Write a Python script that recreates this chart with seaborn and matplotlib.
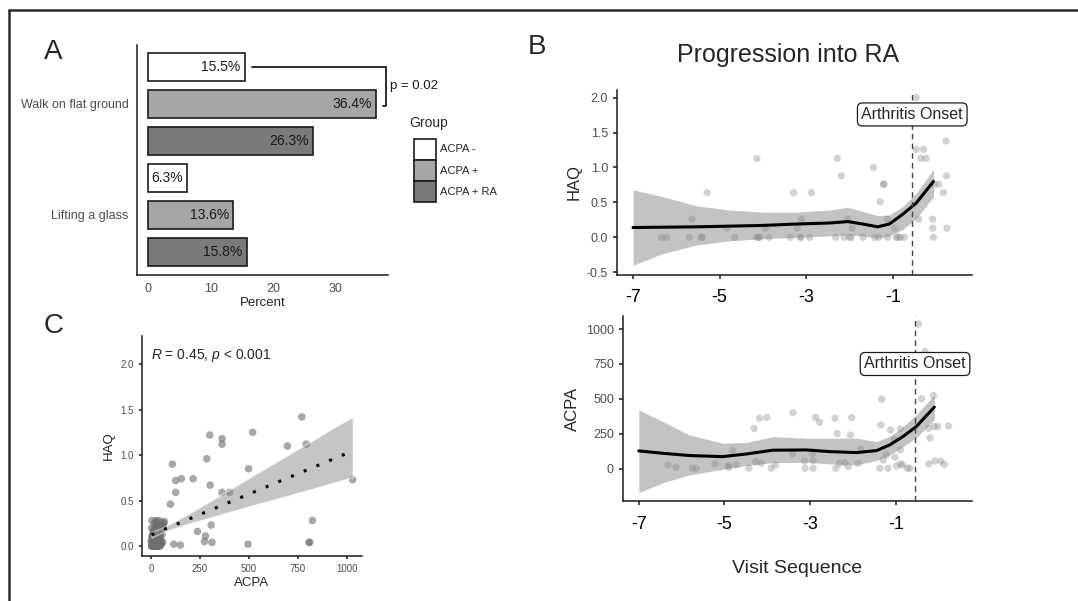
import numpy as np
import pandas as pd
import seaborn as sns
import matplotlib.pyplot as plt
from matplotlib.patches import Patch
from matplotlib.lines import Line2D

# Panel A: share of answers per item and group
items = ["Walk on flat ground", "Lifting a glass"]
groups = ["ACPA -", "ACPA +", "ACPA + RA"]
pct_walk = [15.5, 36.4, 26.3]
pct_glass = [6.3, 13.6, 15.8]
group_colors = ["#ffffff", "#a6a6a6", "#7a7a7a"]

# Panel B top: HAQ by visit
haq_vx = [-4.14, -5.29, -5.64, -4.83, -3.94, -3.29, -2.88, -3.11, -3.21, -2.28,
          -2.19, -2.04, -1.94, -1.45, -1.21, -1.21, -1.29, -1.12, -0.96, -0.46,
          -0.46, -0.29, -0.35, -0.23, 0.23, 0.24, -0.04, 0.06, 0.17, -0.08,
          -0.40, -0.08, 0.25, -0.06,
          -6.34, -6.22, -5.70, -5.42, -5.40, -4.65, -4.15, -4.07, -4.10, -3.86,
          -3.37, -3.14, -3.12, -2.92, -2.32, -2.12, -2.00, -1.96, -1.69, -1.42,
          -1.32, -1.12, -0.92, -0.88, -0.83, -0.73]
haq_v = [1.13, 0.64, 0.26, 0.13, 0.13, 0.64, 0.64, 0.26, 0.13, 1.13,
         0.88, 0.26, 0.13, 1.0, 0.76, 0.76, 0.51, 0.26, 0.13, 2.0,
         1.26, 1.26, 1.13, 1.13, 1.38, 0.88, 0.76, 0.76, 0.64, 0.26,
         0.26, 0.13, 0.13, 0.0,
         0.0, 0.0, 0.0, 0.0, 0.0, 0.0, 0.0, 0.0, 0.0, 0.0,
         0.0, 0.0, 0.0, 0.0, 0.0, 0.0, 0.0, 0.0, 0.0, 0.0,
         0.0, 0.0, 0.0, 0.0, 0.0, 0.0]
# smoothed HAQ curve with its band
haq_sm_x = [-7, -6.30, -5.53, -4.77, -4.0, -3.23, -2.46, -2.04, -1.69, -1.35, -1.08, -0.77, -0.46, -0.06]
haq_sm = [0.14, 0.145, 0.15, 0.16, 0.17, 0.19, 0.205, 0.225, 0.19, 0.15, 0.19, 0.33, 0.49, 0.80]
haq_lo = [-0.40, -0.23, -0.11, -0.05, -0.02, 0.0, 0.02, 0.035, 0.02, -0.01, 0.02, 0.11, 0.27, 0.58]
haq_hi = [0.68, 0.58, 0.45, 0.39, 0.36, 0.36, 0.39, 0.43, 0.37, 0.31, 0.32, 0.44, 0.63, 0.97]

# Panel B bottom: ACPA by visit
acpa_vx = [-0.47, -1.33, -0.40, -0.12, -3.40, -4.18, -4.01, -2.87, -2.78, -2.42,
           -2.03, -4.31, -1.35, -1.12, -0.89, -2.37, -2.06, -0.20, -0.23, -0.10,
           -0.02, 0.23, -4.81, -3.41, -2.95, -1.82, -1.04, -0.89, -1.22, -1.02,
           -1.29, -6.32, -6.13, -5.75, -5.66, -5.22, -4.91, -4.90, -4.72, -4.43,
           -4.27, -4.14, -3.91, -3.81, -3.13, -2.93, -3.12, -2.93, -2.40, -2.31,
           -2.19, -2.11, -1.88, -1.37, -1.18, -0.98, -0.89, -0.84, -0.73, -0.67,
           -0.23, -0.09, 0.05, 0.13, -0.32]
acpa_v = [1036, 499, 501, 525, 403, 363, 368, 368, 334, 363,
          368, 289, 315, 279, 286, 253, 243, 222, 291, 303,
          303, 308, 131, 107, 112, 141, 212, 136, 100, 84,
          64, 29, 12, 5, 5, 36, 24, 12, 31, 5,
          52, 41, 5, 29, 57, 60, 5, 5, 5, 41,
          45, 17, 41, 5, 5, 21, 36, 29, 5, 5,
          36, 57, 57, 33, 840]
acpa_sm_x = [-7, -6.44, -5.82, -5.04, -4.49, -3.87, -3.09, -2.54, -1.92, -1.45, -1.14, -0.83, -0.52, -0.10]
acpa_sm = [129, 112, 96, 88, 107, 134, 136, 124, 117, 131, 172, 232, 303, 442]
acpa_lo = [-169, -98, -43, -2, 24, 45, 48, 36, 29, 60, 100, 160, 224, 351]
acpa_hi = [422, 339, 243, 184, 189, 231, 220, 220, 220, 196, 232, 303, 387, 530]
onset = -0.55

# Panel C: HAQ against ACPA
acpa_c = [770, 519, 300, 363, 363, 696, 792, 109, 285, 498,
          155, 126, 215, 302, 1029, 126, 362, 401, 99, 824,
          307, 237, 278, 273, 311, 116, 150, 495, 807, 810,
          5, 25, 55, 3, 30, 60, 10, 40, 5, 20,
          50, 2, 12, 22, 35, 45, 8, 18, 28, 38,
          15, 60, 65, 32,
          4, 9, 14, 19, 24, 29, 33, 41, 47, 52,
          6, 16, 26, 36, 44, 3, 11, 21, 31, 42,
          7, 13, 17, 23, 27, 34, 39, 48, 56, 62,
          2, 10, 15, 20, 25, 30, 37, 43, 50, 58,
          5, 12, 18, 24, 30, 36, 40, 46, 53, 68]
haq_c = [1.42, 1.25, 1.22, 1.18, 1.12, 1.10, 1.12, 0.90, 0.96, 0.85,
         0.74, 0.72, 0.74, 0.67, 0.73, 0.59, 0.59, 0.59, 0.46, 0.28,
         0.23, 0.16, 0.11, 0.05, 0.04, 0.02, 0.01, 0.02, 0.04, 0.04,
         0.28, 0.28, 0.26, 0.20, 0.22, 0.22, 0.15, 0.17, 0.10, 0.12,
         0.10, 0.05, 0.04, 0.03, 0.05, 0.02, 0.0, 0.0, 0.0, 0.0,
         0.07, 0.04, 0.25, 0.14,
         0.0, 0.02, 0.0, 0.05, 0.0, 0.03, 0.0, 0.06, 0.0, 0.02,
         0.08, 0.0, 0.04, 0.0, 0.1, 0.0, 0.03, 0.0, 0.06, 0.0,
         0.12, 0.18, 0.25, 0.10, 0.22, 0.15, 0.28, 0.20, 0.13, 0.24,
         0.05, 0.10, 0.16, 0.21, 0.08, 0.26, 0.12, 0.18, 0.06, 0.22,
         0.0, 0.13, 0.05, 0.19, 0.02, 0.11, 0.07, 0.15, 0.03, 0.27]

sns.set_theme(style="ticks")
plt.rcParams["font.family"] = ["Liberation Sans", "DejaVu Sans"]
plt.rcParams["mathtext.fontset"] = "custom"
plt.rcParams["mathtext.it"] = "Liberation Sans:italic"
plt.rcParams["mathtext.rm"] = "Liberation Sans"
plt.rcParams["axes.unicode_minus"] = False
plt.rcParams["axes.edgecolor"] = "#1a1a1a"
plt.rcParams["axes.linewidth"] = 1.1
plt.rcParams["xtick.color"] = "#333333"
plt.rcParams["ytick.color"] = "#333333"

W, H = 1078, 601
fig = plt.figure(figsize=(W / 100, H / 100), dpi=100)


def box(x0, y0, x1, y1):
    return [x0 / W, 1 - y1 / H, (x1 - x0) / W, (y1 - y0) / H]


axA = fig.add_axes(box(137, 45, 388, 275))
axC = fig.add_axes(box(142, 336, 362, 556))
axB1 = fig.add_axes(box(617, 90, 972, 275))
axB2 = fig.add_axes(box(623, 316, 972, 501))

# frame around the figure (top and left only)
fig.add_artist(Line2D([9 / W, 9 / W], [0, 1 - 10 / H], color="#2b2b2b", lw=1.8))
fig.add_artist(Line2D([9 / W, 1], [1 - 10 / H, 1 - 10 / H], color="#2b2b2b", lw=1.8))

# ---------- A ----------
dfA = pd.DataFrame({
    "item": [items[0]] * 3 + [items[1]] * 3,
    "group": groups * 2,
    "pct": pct_walk + pct_glass,
})
sns.barplot(data=dfA, y="item", x="pct", hue="group", hue_order=groups,
            palette=group_colors, edgecolor="#1a1a1a", linewidth=1.2,
            width=1.0, gap=0.25, errorbar=None, legend=False, ax=axA)
for cont in axA.containers:
    for bar in cont:
        w = bar.get_width()
        axA.text(w - 0.7, bar.get_y() + bar.get_height() / 2, f"{w:.1f}%",
                 ha="right", va="center", fontsize=10, color="#1a1a1a")
axA.set_xlim(-1.75, 38.3)
axA.set_ylim(1.54, -0.53)
axA.set_xticks([0, 10, 20, 30])
axA.tick_params(axis="x", labelsize=9, labelcolor="#4d4d4d", length=0, pad=6)
axA.tick_params(axis="y", labelsize=9, labelcolor="#4d4d4d", length=0, pad=6)
axA.set_xlabel("Percent", fontsize=9.5, labelpad=1)
axA.set_ylabel("")
sns.despine(ax=axA)

# significance bracket between first two bars
b1 = axA.containers[0][0]
b2 = axA.containers[1][0]
y1 = b1.get_y() + b1.get_height() / 2
y2 = b2.get_y() + b2.get_height() / 2 + 0.02
xb = max(pct_walk) + 1.6
axA.plot([pct_walk[0] + 1.1, xb, xb, xb - 0.5], [y1, y1, y2, y2],
         color="#1a1a1a", lw=1.3, clip_on=False)
axA.text(xb + 0.6, (y1 + y2) / 2, "p = 0.02", fontsize=9.5, va="center",
         ha="left", color="#1a1a1a", clip_on=False)

handles = [Patch(facecolor=c, edgecolor="#1a1a1a", linewidth=1.2) for c in group_colors]
leg = axA.legend(handles, groups, loc="upper left",
                 bbox_to_anchor=(408 / W, 1 - 133 / H), bbox_transform=fig.transFigure,
                 frameon=False, fontsize=8, handlelength=2.0,
                 handleheight=2.55, labelspacing=0.0, handletextpad=0.35,
                 borderpad=0.0)
fig.text(409 / W, 1 - 123 / H, "Group", fontsize=10, ha="left", va="center")

# ---------- B top ----------
sns.scatterplot(x=haq_vx, y=haq_v, ax=axB1, color="#808080", alpha=0.35,
                s=28, edgecolor="none")
axB1.fill_between(haq_sm_x, haq_lo, haq_hi, color="#8c8c8c", alpha=0.52, lw=0)
sns.lineplot(x=haq_sm_x, y=haq_sm, ax=axB1, color="black", lw=2.2)
axB1.axvline(onset, color="#444444", ls=(0, (4, 3)), lw=1)
axB1.text(onset, 1.76, "Arthritis Onset", ha="center", va="center", fontsize=11.5,
          bbox=dict(boxstyle="round,pad=0.25,rounding_size=0.3", fc="white",
                    ec="#1a1a1a", lw=0.9))
axB1.set_xlim(-7.37, 0.83)
axB1.set_ylim(-0.54, 2.11)
axB1.set_xticks([-7, -5, -3, -1])
axB1.set_yticks([-0.5, 0.0, 0.5, 1.0, 1.5, 2.0])
axB1.set_yticklabels(["-0.5", "0.0", "0.5", "1.0", "1.5", "2.0"])
axB1.tick_params(axis="x", labelsize=13, labelcolor="black", length=3, pad=7)
axB1.tick_params(axis="y", labelsize=9, labelcolor="#4d4d4d", length=3)
axB1.set_ylabel("HAQ", fontsize=12)
axB1.set_xlabel("")
sns.despine(ax=axB1)
fig.text(788 / W, 1 - 55 / H, "Progression into RA", fontsize=18,
         ha="center", va="center")

# ---------- B bottom ----------
sns.scatterplot(x=acpa_vx, y=acpa_v, ax=axB2, color="#808080", alpha=0.35,
                s=28, edgecolor="none")
axB2.fill_between(acpa_sm_x, acpa_lo, acpa_hi, color="#8c8c8c", alpha=0.52, lw=0)
sns.lineplot(x=acpa_sm_x, y=acpa_sm, ax=axB2, color="black", lw=2.2)
axB2.axvline(onset, color="#444444", ls=(0, (4, 3)), lw=1)
axB2.text(onset, 750, "Arthritis Onset", ha="center", va="center", fontsize=11.5,
          bbox=dict(boxstyle="round,pad=0.25,rounding_size=0.3", fc="white",
                    ec="#1a1a1a", lw=0.9))
axB2.set_xlim(-7.37, 0.78)
axB2.set_ylim(-229, 1093)
axB2.set_xticks([-7, -5, -3, -1])
axB2.set_yticks([0, 250, 500, 750, 1000])
axB2.tick_params(axis="x", labelsize=13, labelcolor="black", length=3, pad=8)
axB2.tick_params(axis="y", labelsize=9, labelcolor="#4d4d4d", length=3)
axB2.set_ylabel("ACPA", fontsize=12)
axB2.set_xlabel("Visit Sequence", fontsize=14, labelpad=19)
sns.despine(ax=axB2)

# ---------- C ----------
sns.regplot(x=acpa_c, y=haq_c, ax=axC, color="#6e6e6e", seed=3, ci=85,
            scatter_kws=dict(s=30, alpha=0.6, edgecolor="none"),
            line_kws=dict(color="black", ls=(0, (1, 3.5)), lw=2.2))
for coll in axC.collections[1:]:
    coll.set_facecolor("#8c8c8c")
    coll.set_alpha(0.5)
axC.set_xlim(-46, 1077)
axC.set_ylim(-0.11, 2.31)
axC.set_xticks([0, 250, 500, 750, 1000])
axC.set_yticks([0.0, 0.5, 1.0, 1.5, 2.0])
axC.set_yticklabels(["0.0", "0.5", "1.0", "1.5", "2.0"])
axC.tick_params(labelsize=7, labelcolor="#4d4d4d", length=2.5)
axC.set_xlabel("ACPA", fontsize=9.5, labelpad=2)
axC.set_ylabel("HAQ", fontsize=9.5)
axC.text(2, 2.09, r"$\mathit{R}$ = 0.45, $\mathit{p}$ < 0.001", fontsize=10,
         ha="left", va="center")
sns.despine(ax=axC)

# panel letters
fig.text(53 / W, 1 - 52 / H, "A", fontsize=20, ha="center", va="center")
fig.text(537 / W, 1 - 47 / H, "B", fontsize=20, ha="center", va="center")
fig.text(54 / W, 1 - 326 / H, "C", fontsize=20, ha="center", va="center")

fig.savefig("out.png", dpi=100)
